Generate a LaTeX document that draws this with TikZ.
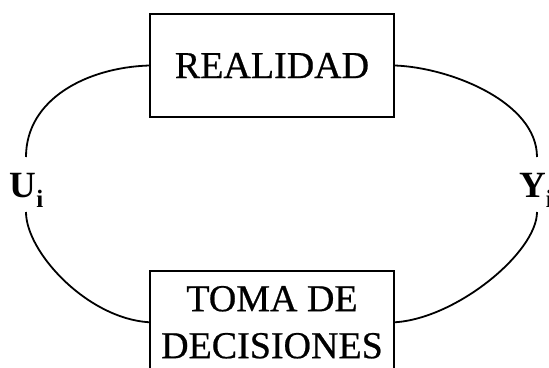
\documentclass[tikz,border=0pt]{standalone}
\usepackage{fontspec}
\setmainfont{Liberation Serif}
\newfontfamily\boxfont[FakeBold=0.6]{Liberation Serif}
\begin{document}
\begin{tikzpicture}[x=1pt,y=-1pt,
  boxnode/.style={draw, line width=2pt, minimum width=244pt, inner sep=0pt,
    font=\boxfont\fontsize{38}{47}\selectfont, align=center},
  lbl/.style={font=\fontsize{37}{37}\selectfont\bfseries, inner sep=0pt, anchor=base},
  link/.style={line width=1.8pt}]
\useasboundingbox (0,0) rectangle (549,367);
\clip (0,0) rectangle (549,367);
\node[boxnode, minimum height=103pt] (real) at (272,65.5) {REALIDAD};
\node[boxnode, anchor=north, inner ysep=15pt] (toma) at (272,270) {TOMA DE\\DECISIONES};
\node[lbl] (U) at (26.5,197) {U\raisebox{-10pt}{\fontsize{25}{25}\selectfont i}};
\node[lbl] (Y) at (536,197) {Y\raisebox{-10pt}{\fontsize{25}{25}\selectfont i}};
\coordinate (ut) at (26,157);
\coordinate (ub) at (26,212);
\coordinate (yt) at (537,157);
\coordinate (yb) at (537,212);
\draw[link] (real.west) .. controls +(-62,2) and +(0,-58) .. (ut);
\draw[link] (ub) .. controls +(0,40) and +(-62,-4) .. (toma.west);
\draw[link] (real.east) .. controls +(55,2) and +(0,-55) .. (yt);
\draw[link] (yb) .. controls +(0,40) and +(62,-4) .. (toma.east);
\end{tikzpicture}
\end{document}
